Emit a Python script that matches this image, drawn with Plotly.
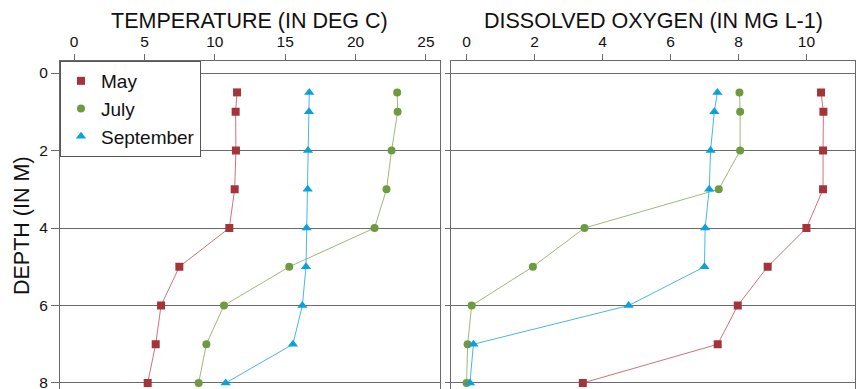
import plotly.graph_objects as go

# Sampling depths (m)
depth = [0.5, 1, 2, 3, 4, 5, 6, 7, 8]

# Water temperature profiles (deg C)
temp_may = [11.58, 11.48, 11.5, 11.41, 11.03, 7.48, 6.18, 5.8, 5.23]
temp_july = [22.96, 22.99, 22.56, 22.2, 21.35, 15.29, 10.65, 9.4, 8.85]
temp_sept = [16.71, 16.69, 16.62, 16.6, 16.52, 16.48, 16.22, 15.55, 10.77]

# Dissolved oxygen profiles (mg/L)
do_may = [10.43, 10.5, 10.49, 10.49, 10.0, 8.86, 7.98, 7.39, 3.42]
do_july = [8.03, 8.05, 8.05, 7.42, 3.47, 1.95, 0.15, 0.03, 0.0]
do_sept = [7.38, 7.29, 7.18, 7.14, 7.02, 7.0, 4.77, 0.2, 0.1]

months = ["May", "July", "September"]
temp_ticks = [0, 5, 10, 15, 20, 25]
do_ticks = [0, 2, 4, 6, 8, 10]
depth_ticks = [0, 2, 4, 6, 8]

styles = {
    "May": dict(color="#A5333A", line="rgba(200,90,96,0.85)", symbol="square", size=8),
    "July": dict(color="#6E9A40", line="rgba(140,172,100,0.85)", symbol="circle", size=8),
    "September": dict(color="#0BA1DC", line="rgba(40,170,225,0.85)", symbol="triangle-up", size=9),
}

FONT = "Liberation Sans, Arial, sans-serif"
AX = "#6a6a6a"
W, H = 858, 389
TOP = 61  # top margin in px
PLOT_H = H - TOP

fig = go.Figure()

panels = [
    ("x", "y", [temp_may, temp_july, temp_sept]),
    ("x2", "y2", [do_may, do_july, do_sept]),
]

# connecting lines first, markers on top
for xa, ya, series in panels:
    for name, vals in zip(months, series):
        s = styles[name]
        fig.add_trace(go.Scatter(
            x=vals, y=depth, mode="lines", xaxis=xa, yaxis=ya,
            line=dict(color=s["line"], width=1), showlegend=False,
            legendgroup=name, hoverinfo="skip"))
for xa, ya, series in panels:
    for name, vals in zip(months, series):
        s = styles[name]
        fig.add_trace(go.Scatter(
            x=vals, y=depth, mode="markers", xaxis=xa, yaxis=ya, name=name,
            marker=dict(color=s["color"], symbol=s["symbol"], size=s["size"],
                        line=dict(width=0)),
            showlegend=(xa == "x"), legendgroup=name))

tick_font = dict(family=FONT, size=15.5, color="#111")
title_font = dict(family=FONT, size=21.5, color="#111")
yrange = [8.155, -0.31]

left_dom = [60 / W, 440 / W]
right_dom = [451.3 / W, 855 / W]

# panel titles above the top axes
title_y = 1 + (TOP - 21) / PLOT_H
for text, dom in [("TEMPERATURE (IN DEG C)", left_dom),
                  ("DISSOLVED OXYGEN (IN MG L-1)", right_dom)]:
    fig.add_annotation(text=text, x=(dom[0] + dom[1]) / 2, y=title_y,
                       xref="paper", yref="paper", xanchor="center",
                       yanchor="middle", showarrow=False, font=title_font)

# shared depth title, rotated, left of the first panel
fig.add_annotation(text="DEPTH (IN M)", x=22 / W, y=0.5 - 1 / PLOT_H,
                   xref="paper", yref="paper", xanchor="center",
                   yanchor="middle", textangle=-90, showarrow=False,
                   font=title_font)

fig.update_layout(
    width=W, height=H,
    margin=dict(l=0, r=0, t=TOP, b=0),
    paper_bgcolor="white", plot_bgcolor="white",
    font=dict(family=FONT, color="#111"),
    showlegend=True,
    legend=dict(x=60 / W, y=1, xanchor="left", yanchor="top",
                bgcolor="white", bordercolor="#555", borderwidth=1,
                font=dict(family=FONT, size=19, color="#111"),
                tracegroupgap=0),
    xaxis=dict(domain=left_dom, range=[-1, 26], side="top",
               anchor="y", tickvals=temp_ticks, ticks="outside", ticklen=6,
               tickcolor=AX, showline=True, linecolor=AX, linewidth=1,
               mirror=False, showgrid=False, zeroline=False,
               tickfont=tick_font, automargin=False, ticklabelstandoff=1),
    yaxis=dict(domain=[0, 1], range=yrange, anchor="x",
               tickvals=depth_ticks, ticks="outside", ticklen=8,
               tickcolor=AX, showline=True, linecolor=AX, linewidth=1,
               mirror=True, showgrid=True, gridcolor=AX, gridwidth=1,
               zeroline=False, tickfont=tick_font, automargin=False,
               ticklabeloverflow="allow"),
    xaxis2=dict(domain=right_dom, range=[-0.45, 11.43],
                side="top", anchor="y2", tickvals=do_ticks, ticks="outside",
                ticklen=6, tickcolor=AX, showline=True, linecolor=AX,
                linewidth=1, mirror=False, showgrid=False, zeroline=False,
                tickfont=tick_font, automargin=False, ticklabelstandoff=1),
    yaxis2=dict(domain=[0, 1], range=yrange, anchor="x2",
                tickvals=depth_ticks, ticks="outside", ticklen=5,
                tickcolor=AX, showline=True, linecolor=AX, linewidth=1,
                mirror=True, showgrid=True, gridcolor=AX, gridwidth=1,
                zeroline=False, showticklabels=False, automargin=False),
)

fig.write_html("out.html")
